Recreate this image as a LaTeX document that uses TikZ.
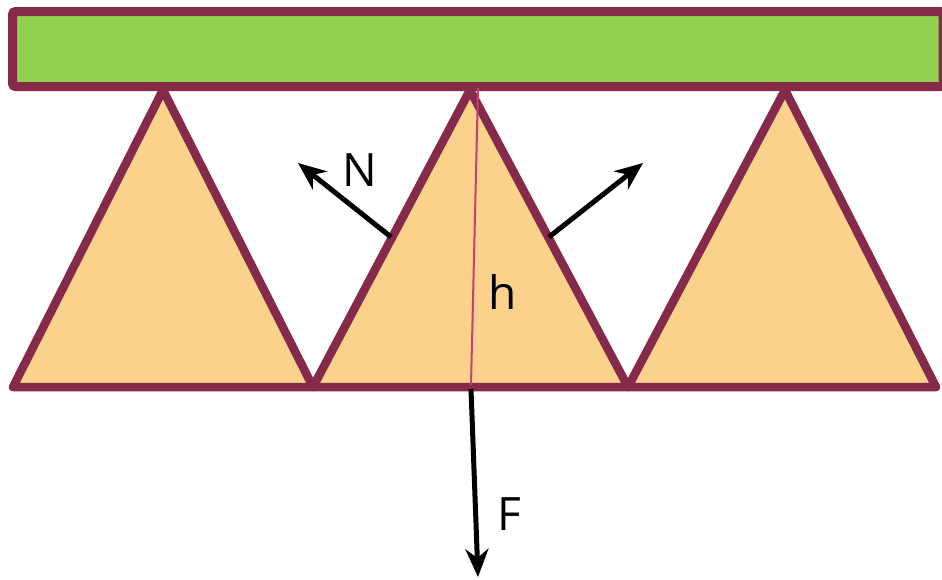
\documentclass[tikz,border=0pt]{standalone}
\usepackage{fontspec}
\setmainfont{Open Sans}
\usetikzlibrary{arrows.meta}
\definecolor{edgec}{HTML}{862A4C}
\definecolor{barc}{HTML}{92D050}
\definecolor{trifill}{HTML}{FBD28B}
\definecolor{hc}{HTML}{C4406E}
\tikzset{
  tri/.style={draw=edgec, fill=trifill, line width=8.5pt, line join=round},
  bar/.style={draw=edgec, fill=barc, line width=9pt, rounded corners=3pt},
  force/.style={draw=black, line width=5pt, -{Stealth[length=28pt,width=23pt,inset=9pt]}},
  lbl/.style={font=\fontsize{46}{50}\selectfont, text=black, inner sep=0pt}
}
\begin{document}
\begin{tikzpicture}[x=1pt,y=-1pt]
\useasboundingbox (0,0) rectangle (942,579);
% triangles
\coordinate (A1) at (163,90);
\coordinate (A2) at (470,90);
\coordinate (A3) at (785,90);
\coordinate (B0) at (13,387);
\coordinate (B1) at (313,387);
\coordinate (B2) at (628,387);
\coordinate (B3) at (936,387);
\draw[tri] (B0) -- (A1) -- (B1) -- cycle;
\draw[tri] (B1) -- (A2) -- (B2) -- cycle;
\draw[tri] (B2) -- (A3) -- (B3) -- cycle;
% bar
\draw[bar] (12.5,11.5) rectangle (943,86.5);
% height line
\coordinate (H1) at (478,88);
\coordinate (H2) at (471,385);
\draw[hc, line width=2pt] (H1) -- (H2);
% forces
\coordinate (F0) at (471,389);
\coordinate (F1) at (478,577);
\draw[force] (F0) -- (F1);
\coordinate (N0) at (391,237);
\coordinate (N1) at (298,163);
\draw[force] (N0) -- (N1);
\coordinate (M0) at (549,237);
\coordinate (M1) at (643,163);
\draw[force] (M0) -- (M1);
% labels
\node[lbl] (lN) at (360,170) {N};
\node[lbl] (lh) at (503,292) {h};
\node[lbl] (lF) at (509,514) {F};
\end{tikzpicture}
\end{document}
